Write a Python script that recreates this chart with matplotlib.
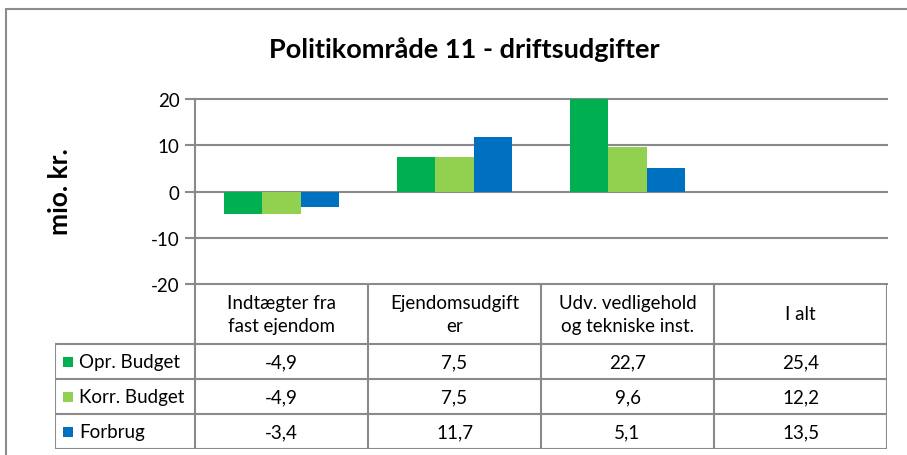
import matplotlib.pyplot as plt
import numpy as np
from matplotlib.patches import Rectangle

categories = ["Indtægter fra\nfast ejendom", "Ejendomsudgift\ner",
              "Udv. vedligehold\nog tekniske inst.", "I alt"]
series = ["Opr. Budget", "Korr. Budget", "Forbrug"]
opr_budget = [-4.9, 7.5, 22.7, 25.4]
korr_budget = [-4.9, 7.5, 9.6, 12.2]
forbrug = [-3.4, 11.7, 5.1, 13.5]
yticks = [-20, -10, 0, 10, 20]
colors = ["#00B050", "#92D050", "#0070C0"]
n_plotted = 3  # "I alt" only appears in the data table

plt.rcParams['font.family'] = ['Lato', 'DejaVu Sans']
W, H = 907, 456
grid_c = '#8a8a8a'
fs = 13.5

fig = plt.figure(figsize=(W / 100, H / 100), dpi=100)

# chart area border
fig.add_artist(Rectangle((6 / W, -0.1), 2, 1 - 10 / H + 0.1, transform=fig.transFigure,
                         fill=False, ec='#8c8c8c', lw=1.5))

fig.text(464 / W, 1 - 50 / H, "Politikområde 11 - driftsudgifter", ha='center', va='center',
         fontsize=19.5, fontweight='bold')
fig.text(60 / W, 1 - 192 / H, "mio. kr.", rotation=90, ha='center', va='center',
         fontsize=19, fontweight='bold')

# bars
ax = fig.add_axes([195 / W, 1 - 285 / H, 692 / W, 185 / H])
x = np.arange(len(categories))
w = 0.222
data = [opr_budget, korr_budget, forbrug]
for i, (vals, c) in enumerate(zip(data, colors)):
    ax.bar(x[:n_plotted] + (i - 1) * w, vals[:n_plotted], w, color=c, zorder=3)
ax.set_xlim(-0.5, len(categories) - 0.5)
ax.set_ylim(yticks[0], yticks[-1])
ax.set_yticks(yticks)
ax.set_yticklabels([str(t) for t in yticks], fontsize=fs)
ax.set_xticks([])
ax.yaxis.grid(True, color=grid_c, lw=1.5)
ax.set_axisbelow(True)
for s in ['top', 'right', 'bottom']:
    ax.spines[s].set_visible(False)
ax.spines['left'].set_color(grid_c)
ax.spines['left'].set_linewidth(1.5)
ax.tick_params(axis='y', length=7, width=1.5, color=grid_c, pad=4)
for gl in ax.get_ygridlines():
    gl.set_clip_on(False)

# data table
tab = fig.add_axes([55 / W, 6 / H, 832 / W, 165 / H])
xl = -0.5 - 140 / 173
tab.set_xlim(xl, len(categories) - 0.5)
tab.set_ylim(0, 165)
tab.axis('off')
row_h, top = 35, 105
for i in range(len(categories) + 1):
    tab.plot([i - 0.5, i - 0.5], [0, 165], color=grid_c, lw=1.5, solid_capstyle='butt')
tab.plot([xl, xl], [0, top], color=grid_c, lw=1.5)
for r in range(4):
    tab.plot([xl, len(categories) - 0.5], [r * row_h, r * row_h], color=grid_c, lw=1.5)
for i, cat in enumerate(categories):
    tab.text(i, top + 30, cat, ha='center', va='center', fontsize=fs, linespacing=1.4)
for r, (name, vals, c) in enumerate(zip(series, data, colors)):
    yc = top - row_h * r - row_h / 2
    tab.add_patch(Rectangle((xl + 8 / 173, yc - 5), 10 / 173, 10, color=c, lw=0))
    tab.text(xl + 24 / 173, yc, name, ha='left', va='center', fontsize=fs)
    for i, v in enumerate(vals):
        tab.text(i, yc, f"{v:.1f}".replace('.', ','), ha='center', va='center', fontsize=fs)

fig.savefig('out.png', dpi=100)
